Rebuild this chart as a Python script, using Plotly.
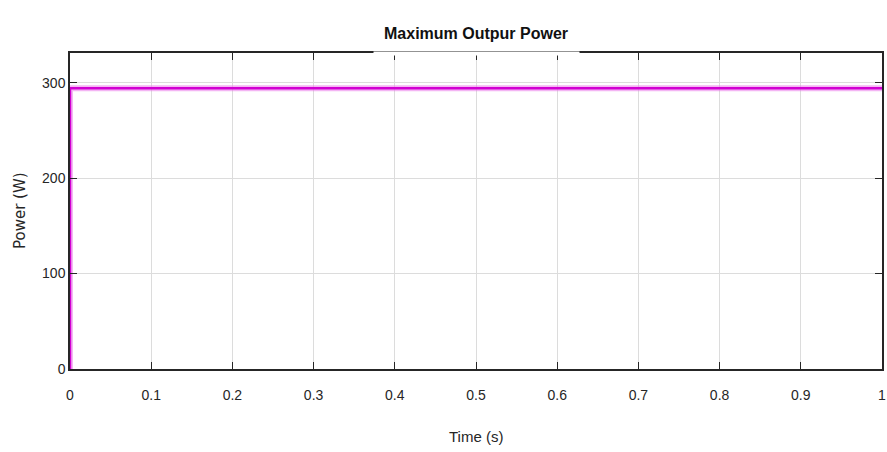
import plotly.graph_objects as go

time_s = [0.0, 0.0, 1.0]
power_w = [0.0, 294.0, 294.0]
x_ticks = [0, 0.1, 0.2, 0.3, 0.4, 0.5, 0.6, 0.7, 0.8, 0.9, 1]
x_tick_labels = ["0", "0.1", "0.2", "0.3", "0.4", "0.5", "0.6", "0.7", "0.8", "0.9", "1"]
y_ticks = [0, 100, 200, 300]
y_tick_labels = ["0", "100", "200", "300"]
title_text = "Maximum Outpur Power"
x_title = "Time (s)"
y_title = "Power (W)"

sans = "Liberation Sans, Arial, sans-serif"

fig = go.Figure()
fig.add_trace(go.Scatter(x=time_s, y=power_w, mode="lines",
                         line=dict(color="rgba(235,120,235,0.55)", width=6),
                         hoverinfo="skip", showlegend=False, cliponaxis=False))
fig.add_trace(go.Scatter(x=time_s, y=power_w, mode="lines",
                         line=dict(color="rgb(210,0,210)", width=2.5),
                         showlegend=False, cliponaxis=False))

fig.update_layout(
    width=887, height=452,
    margin=dict(l=70, r=5, t=53, b=83),
    paper_bgcolor="white", plot_bgcolor="white",
    font=dict(family=sans, size=14, color="#262626"),
    xaxis=dict(range=[0, 1], tickvals=x_ticks, ticktext=x_tick_labels,
               showgrid=True, gridcolor="#dcdcdc", gridwidth=1,
               showline=True, linecolor="#262626", linewidth=1.5, mirror="ticks",
               ticks="inside", ticklen=7, tickcolor="#262626", tickwidth=1,
               zeroline=False, automargin=False, ticklabelstandoff=12,
               tickfont=dict(family=sans, size=14, color="#262626")),
    yaxis=dict(range=[0, 331], tickvals=y_ticks, ticktext=y_tick_labels,
               showgrid=True, gridcolor="#dcdcdc", gridwidth=1,
               showline=True, linecolor="#262626", linewidth=1.5, mirror="ticks",
               ticks="inside", ticklen=7, tickcolor="#262626", tickwidth=1,
               zeroline=False, automargin=False,
               tickfont=dict(family=sans, size=14, color="#262626")),
)

# white box breaking the top axis line behind the title
fig.add_annotation(xref="paper", yref="paper", x=0.5, y=1.0, xanchor="center", yanchor="middle",
                   text=" ", showarrow=False, bgcolor="white", width=205, height=3, borderpad=0)
fig.add_annotation(xref="paper", yref="paper", x=0.5, y=1.0, yshift=20, xanchor="center", yanchor="middle",
                   text="<b>" + title_text + "</b>", showarrow=False,
                   font=dict(family=sans, size=16, color="#111111"))
# axis titles
fig.add_annotation(xref="paper", yref="paper", x=0.5, y=0.0, yshift=-67, xanchor="center", yanchor="middle",
                   text=x_title, showarrow=False, font=dict(family=sans, size=15, color="#262626"))
fig.add_annotation(xref="paper", yref="paper", x=0.0, y=0.5, xshift=-50, xanchor="center", yanchor="middle",
                   text=y_title, textangle=-90, showarrow=False,
                   font=dict(family="DejaVu Sans, sans-serif", size=15, color="#262626"))

fig.write_html("out.html", config={"displayModeBar": False})

with open("out.html", "r", encoding="utf-8") as f:
    html = f.read()
html = html.replace("<head>", "<head><style>html,body{margin:0;padding:0;}</style>", 1)
with open("out.html", "w", encoding="utf-8") as f:
    f.write(html)
